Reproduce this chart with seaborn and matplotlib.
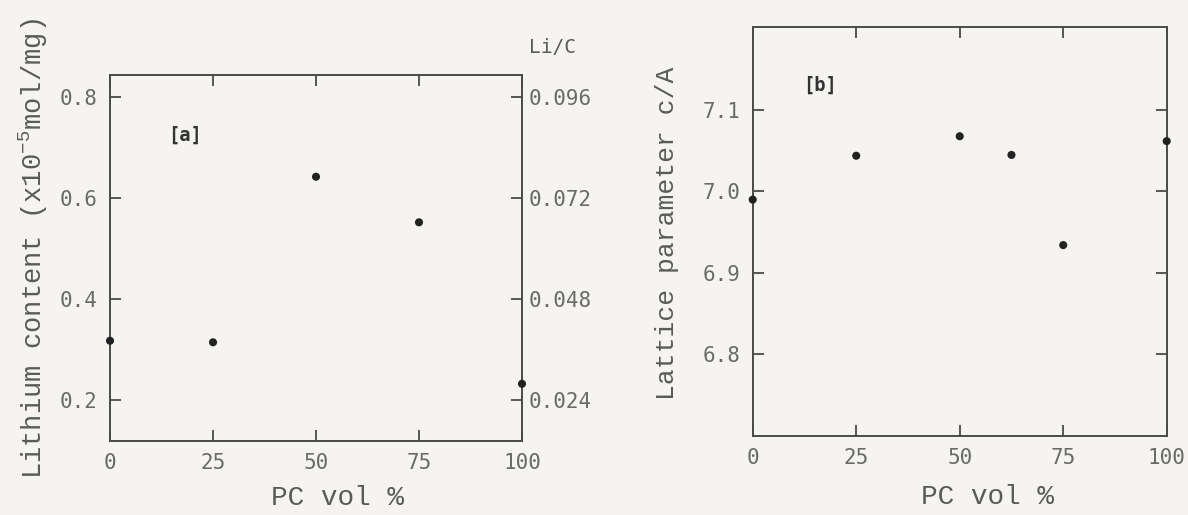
import matplotlib
matplotlib.use("Agg")
import matplotlib.pyplot as plt
import seaborn as sns
import pandas as pd

# ---- data ----
pc_a = [0, 25, 50, 75, 100]
li_content = [0.318, 0.315, 0.642, 0.552, 0.233]
li_ticks = [0.2, 0.4, 0.6, 0.8]
li_tick_labels = ["0.2", "0.4", "0.6", "0.8"]
lic_ticks = [0.024, 0.048, 0.072, 0.096]
lic_tick_labels = ["0.024", "0.048", "0.072", "0.096"]

pc_b = [0, 25, 50, 62.5, 75, 100]
lattice_c = [6.99, 7.044, 7.068, 7.045, 6.934, 7.062]
lat_ticks = [6.8, 6.9, 7.0, 7.1]
lat_tick_labels = ["6.8", "6.9", "7.0", "7.1"]

x_ticks = [0, 25, 50, 75, 100]
x_tick_labels = ["0", "25", "50", "75", "100"]

sns.set_style("ticks")
BG = "#f6f4f0"
LINE = "#4a4a4a"
TXT = "#5a5a5a"
TICKTXT = "#6a6a6a"
plt.rcParams["font.family"] = ["Liberation Mono", "DejaVu Sans Mono"]
plt.rcParams["mathtext.fontset"] = "custom"
plt.rcParams["mathtext.rm"] = "Liberation Mono"
plt.rcParams["mathtext.it"] = "Liberation Mono"

fig = plt.figure(figsize=(11.88, 5.15), dpi=100, facecolor=BG)

axa = fig.add_axes([0.0926, 0.1437, 0.3468, 0.7107])
axb = fig.add_axes([0.6336, 0.1534, 0.3485, 0.7942])

df_a = pd.DataFrame({"pc": pc_a, "li": li_content})
df_b = pd.DataFrame({"pc": pc_b, "c": lattice_c})

def style_axes(ax):
    ax.set_facecolor(BG)
    for s in ax.spines.values():
        s.set_visible(True)
        s.set_color(LINE)
        s.set_linewidth(1.4)
    ax.tick_params(axis="both", direction="in", length=8, width=1.3,
                   color=LINE, labelcolor=TICKTXT, labelsize=15, pad=9)
    ax.tick_params(axis="x", top=True, bottom=True)
    for lab in ax.get_xticklabels() + ax.get_yticklabels():
        lab.set_family("DejaVu Sans Mono")

# ---- panel a ----
sns.scatterplot(data=df_a, x="pc", y="li", ax=axa, color="#222222",
                s=34, edgecolor="none", clip_on=False, zorder=5)
axa.set_xlim(0, 100)
axa.set_ylim(0.12, 0.843)
axa.set_xticks(x_ticks)
axa.set_xticklabels(x_tick_labels)
axa.set_yticks(li_ticks)
axa.set_yticklabels(li_tick_labels)
style_axes(axa)
axa.set_xlabel("PC vol %", fontsize=20, color=TXT, va="center")
axa.xaxis.set_label_coords(0.553, -0.156)
axa.set_ylabel(r"Lithium content (x10$^{\mathrm{-5}}$mol/mg)", fontsize=19.5,
               color=TXT, va="center")
axa.yaxis.set_label_coords(-0.187, 0.525)
axa.text(18.2, 0.724, "[a]", fontsize=13.5, color="#333333", ha="center",
         va="center", family="DejaVu Sans Mono", weight="bold")

ax2 = axa.twinx()
ax2.set_ylim(0.12 * 0.12, 0.843 * 0.12)
ax2.set_yticks(lic_ticks)
ax2.set_yticklabels(lic_tick_labels)
for s in ax2.spines.values():
    s.set_visible(False)
ax2.tick_params(axis="y", direction="in", length=8, width=1.3, color=LINE,
                labelcolor=TICKTXT, labelsize=15, pad=5)
for lab in ax2.get_yticklabels():
    lab.set_family("DejaVu Sans Mono")
ax2.grid(False)
axa.text(1.075, 1.075, "Li/C", transform=axa.transAxes, fontsize=14,
         color=TXT, ha="center", va="center", family="DejaVu Sans Mono")

# ---- panel b ----
sns.scatterplot(data=df_b, x="pc", y="c", ax=axb, color="#222222",
                s=34, edgecolor="none", clip_on=False, zorder=5)
axb.set_xlim(0, 100)
axb.set_ylim(6.699, 7.2025)
axb.set_xticks(x_ticks)
axb.set_xticklabels(x_tick_labels)
axb.set_yticks(lat_ticks)
axb.set_yticklabels(lat_tick_labels)
style_axes(axb)
axb.tick_params(axis="y", right=True)
axb.set_xlabel("PC vol %", fontsize=20, color=TXT, va="center")
axb.xaxis.set_label_coords(0.568, -0.150)
axb.set_ylabel("Lattice parameter c/A", fontsize=19, color=TXT, va="center")
axb.yaxis.set_label_coords(-0.207, 0.496)
axb.text(16.3, 7.131, "[b]", fontsize=13.5, color="#333333", ha="center",
         va="center", family="DejaVu Sans Mono", weight="bold")

fig.savefig("out.png", dpi=100, facecolor=BG)
